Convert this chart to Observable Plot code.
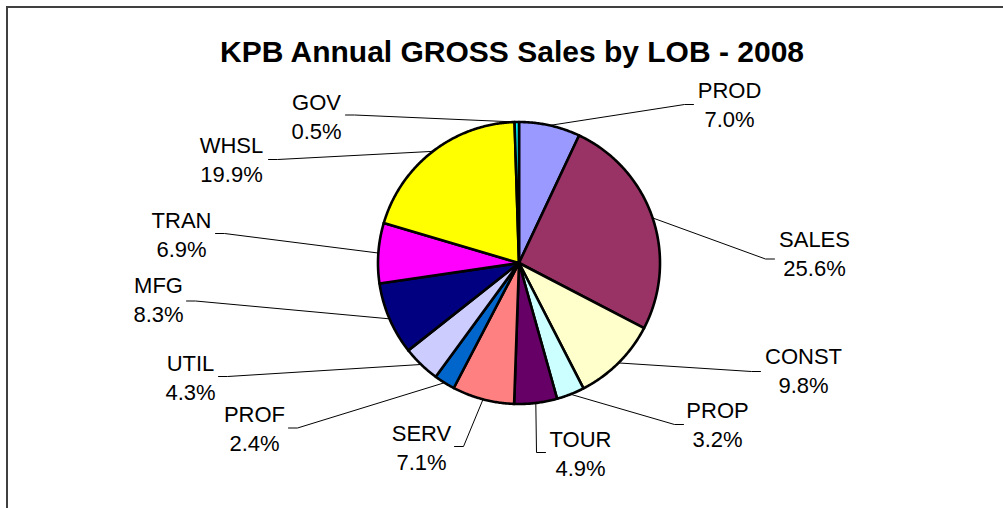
<!DOCTYPE html>
<html><head><meta charset="utf-8">
<script src="https://cdn.jsdelivr.net/npm/d3@7"></script>
<script src="https://cdn.jsdelivr.net/npm/@observablehq/plot@0.6"></script>
<style>
body{margin:0;background:#fff;overflow:hidden;}
#frame{position:absolute;left:6px;top:6px;width:1100px;height:700px;border-top:2px solid #404040;border-left:2px solid #404040;}
#chart{position:absolute;left:0;top:0;}
</style></head><body>
<div id="frame"></div><div id="chart"></div>
<script>
// ---- data ----
const title = "KPB Annual GROSS Sales by LOB - 2008";
const categories = ["PROD","SALES","CONST","PROP","TOUR","SERV","PROF","UTIL","MFG","TRAN","WHSL","GOV"];
const shares = [7.0, 25.6, 9.8, 3.2, 4.9, 7.1, 2.4, 4.3, 8.3, 6.9, 19.9, 0.5];
const colors = ["#9999FF","#993366","#FFFFCC","#CCFFFF","#660066","#FF8080","#0066CC","#CCCCFF","#000080","#FF00FF","#FFFF00","#00FFFF"];

// ---- layout (label box centre and leader end, px offsets from pie centre, y down) ----
const labelCenter = [[210.5,-159.5],[295.5,-10.5],[284.5,106.5],[198.5,160],[61.5,189.5],[-97.5,183.5],[-264.5,164.5],[-328.5,113.5],[-360.5,35.5],[-337.5,-29.5],[-287.5,-104.5],[-202.5,-147.5]];
const leaderEnd = [[174.5,-158.5],[255.5,-4],[241.5,108.5],[164.5,161.5],[26.5,189.5],[-64.5,183.5],[-230.5,165],[-300.5,113.5],[-332.5,38],[-303.5,-29.5],[-250.5,-103.5],[-173.5,-148]];

const W = 1003, H = 508, R = 141, CX = 518.5, CY = 262.5, STUB = 9;
const font = "'Liberation Sans', Arial, Helvetica, sans-serif";

const arcs = d3.pie().sort(null).value(d => d)(shares);
const pt = (a, r) => [r * Math.sin(a), r * Math.cos(a)];

const slicePts = [];
arcs.forEach((a, i) => {
  slicePts.push({name: categories[i], color: colors[i], x: 0, y: 0});
  const n = Math.max(2, Math.ceil((a.endAngle - a.startAngle) / (Math.PI / 360)));
  for (let k = 0; k <= n; k++) {
    const t = a.startAngle + (a.endAngle - a.startAngle) * k / n;
    const [x, y] = pt(t, 1);
    slicePts.push({name: categories[i], color: colors[i], x, y});
  }
  slicePts.push({name: categories[i], color: colors[i], x: 0, y: 0});
});

const leaderPts = [];
const labels = [];
arcs.forEach((a, i) => {
  const mid = (a.startAngle + a.endAngle) / 2;
  const [x0, y0] = pt(mid, 1);
  const [ex, ey] = leaderEnd[i];
  const side = labelCenter[i][0] > ex ? -1 : 1;
  leaderPts.push({name: categories[i], x: x0, y: y0});
  leaderPts.push({name: categories[i], x: (ex + side * STUB) / R, y: -ey / R});
  leaderPts.push({name: categories[i], x: ex / R, y: -ey / R});
  labels.push({x: labelCenter[i][0] / R, y: -labelCenter[i][1] / R, text: categories[i] + "\n" + shares[i].toFixed(1) + "%"});
});

const chart = Plot.plot({
  width: W, height: H, margin: 0,
  x: {domain: [-CX / R, (W - CX) / R], range: [0, W], axis: null},
  y: {domain: [-(H - CY) / R, CY / R], range: [H, 0], axis: null},
  color: {type: "identity"},
  style: {fontFamily: font, background: "transparent", overflow: "visible"},
  marks: [
    Plot.line(leaderPts, {x: "x", y: "y", z: "name", stroke: "black", strokeWidth: 1, curve: "linear"}),
    Plot.line(slicePts, {x: "x", y: "y", z: "name", fill: "color", stroke: "black", strokeWidth: 2.6, strokeLinejoin: "round", curve: "linear"}),
    Plot.text(labels, {x: "x", y: "y", text: "text", fontSize: 22, lineHeight: 1.32, lineAnchor: "middle", textAnchor: "middle", fill: "black"}),
    Plot.text([title], {frameAnchor: "top", dx: 10, dy: 52, lineAnchor: "middle", fontSize: 30, fontWeight: "bold", fill: "black"})
  ]
});
document.getElementById("chart").appendChild(chart);
</script>
</body></html>
